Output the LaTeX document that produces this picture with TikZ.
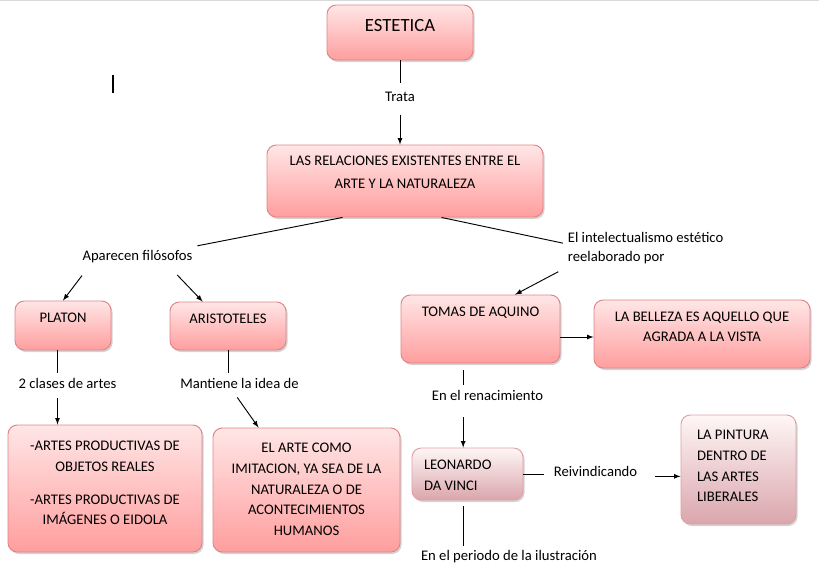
\documentclass[tikz,border=0pt]{standalone}
\usepackage{fontspec}
\setmainfont{Carlito}
\usepackage{tikz}
\usetikzlibrary{shadows, calc}
\definecolor{BoxTop}{RGB}{255,230,230}
\definecolor{BoxBot}{RGB}{255,158,158}
\definecolor{BoxEdge}{RGB}{226,132,135}
\definecolor{PaleTop}{RGB}{255,246,246}
\definecolor{PaleBot}{RGB}{218,166,172}
\definecolor{PaleEdge}{RGB}{224,160,165}
\tikzset{box/.style={draw=BoxEdge, rounded corners=7pt, top color=BoxTop, bottom color=BoxBot, drop shadow={shadow xshift=1.2pt, shadow yshift=-1.5pt, opacity=0.35}}}
\tikzset{palebox/.style={box, draw=PaleEdge, top color=PaleTop, bottom color=PaleBot}}
\tikzset{txt/.style={font=\fontsize{11}{15.5}\selectfont, align=center, inner sep=0pt, anchor=north}}
\tikzset{tag/.style={font=\fontsize{11}{14.3}\selectfont}}
\tikzset{next/.style={-latex}}

\begin{document}
\begin{tikzpicture}[x=0.75pt, y=-0.75pt, line width=0.7pt]
        \useasboundingbox (0,0) rectangle (819,565);
        \draw[gray!30] (0,0.5) -- (819,0.5);
        \draw[line width=1.5pt] (113,75) -- (113,93);

        \node (est) at (400,32.5) [box, minimum width=109.5pt, minimum height=41.25pt] {};
        \node (est-t) at ([yshift=-10.5pt]est.north) [txt, font=\fontsize{14}{17}\selectfont] {ESTETICA};
        \node (trata) at (400,97) [tag] {Trata};
        \draw[shorten >=3pt] (est) -- (trata);

        \node (rel) at (405,181) [box, minimum width=207pt, minimum height=54pt] {};
        \node (rel-t) at ([yshift=-8.5pt]rel.north) [txt, font=\fontsize{11}{17.2}\selectfont] {LAS RELACIONES EXISTENTES ENTRE EL\\ARTE Y LA NATURALEZA};
        \draw[next, shorten <=6pt] (trata) -- (trata |- rel.north);

        % filosofos
        \node (aparecen) at (137.5,257) [tag] {Aparecen filósofos};
        \node (intel) at (563,248.5) [tag, anchor=west, align=left] {El intelectualismo estético\\reelaborado por};
        \draw ([xshift=57pt]rel.south west) -- (aparecen.north east);
        \draw ([xshift=131.25pt]rel.south west) -- ([yshift=4pt]intel.west);

        \node (platon) at (63,325.5) [box, minimum width=72pt, minimum height=36.75pt] {};
        \node (platon-t) at ([yshift=-9.2pt]platon.north) [txt] {PLATON};
        \node (arist) at (228,326) [box, minimum width=87pt, minimum height=36pt] {};
        \node (arist-t) at ([yshift=-9.2pt]arist.north) [txt] {ARISTOTELES};
        \draw[next, shorten <=7pt] ([xshift=7.5pt]aparecen.south west) -- (platon.north);
        \draw[next, shorten <=7pt] ([xshift=-20pt]aparecen.south east) -- ([xshift=-19pt]arist.north);

        \node (clases) at (67.5,383) [tag] {2 clases de artes};
        \node (mantiene) at (239.5,383) [tag] {Mantiene la idea de};
        \draw ([xshift=-4.5pt]platon.south) -- ([xshift=-4.5pt]platon.south |- clases.north);
        \draw (arist) -- (arist |- mantiene.north);

        \node (artes) at (105,488.5) [box, minimum width=145.5pt, minimum height=95.25pt] {};
        \node (artes-t) at ([yshift=-12.2pt]artes.north) [txt] {-ARTES PRODUCTIVAS DE\\OBJETOS REALES\\[9pt]-ARTES PRODUCTIVAS DE\\IMÁGENES O EIDOLA};
        \node (imit) at (306.5,490) [box, minimum width=140.25pt, minimum height=93pt] {};
        \node (imit-t) at ([yshift=-11.5pt]imit.north) [txt] {EL ARTE COMO\\IMITACION, YA SEA DE LA\\NATURALEZA O DE\\ACONTECIMIENTOS\\HUMANOS};
        \draw[next, shorten <=4pt] ([xshift=-7.5pt]clases.south) -- ([xshift=-7.5pt]clases.south |- artes.north);
        \draw[next, shorten <=4pt] ([xshift=-4pt]mantiene.south) -- ([xshift=-36pt]imit.north);

        % tomas de aquino
        \node (tomas) at (480.5,329) [box, minimum width=119.25pt, minimum height=51pt] {};
        \node (tomas-t) at ([yshift=-9.2pt]tomas.north) [txt] {TOMAS DE AQUINO};
        \node (belleza) at (702,334) [box, minimum width=162pt, minimum height=51pt] {};
        \node (belleza-t) at ([yshift=-9.2pt]belleza.north) [txt, font=\fontsize{11}{15}\selectfont] {LA BELLEZA ES AQUELLO QUE\\AGRADA A LA VISTA};
        \draw[next, shorten <=4pt] (intel.south west) -- ([xshift=26pt]tomas.north);
        \draw[next] ([yshift=-6pt]tomas.east) -- ([yshift=-6pt]tomas.east -| belleza.west);

        \node (renac) at (487.5,395) [tag] {En el renacimiento};
        \draw[shorten <=5pt] ([xshift=-13pt]tomas.south) -- ([xshift=-13pt]tomas.south |- renac.north);

        \node (leo) at (467.5,474) [palebox, minimum width=83.25pt, minimum height=39pt] {};
        \node (leo-t) at ([xshift=9pt, yshift=-9.2pt]leo.north west) [txt, anchor=north west, align=left] {LEONARDO\\DA VINCI};
        \draw[next, shorten <=9pt] ([xshift=-13pt]tomas.south |- renac.south) -- ([xshift=-13pt]tomas.south |- leo.north);

        \node (reivind) at (595.5,471) [tag] {Reivindicando};
        \node (pint) at (738.5,469.5) [palebox, minimum width=86.25pt, minimum height=81.75pt] {};
        \node (pint-t) at ([xshift=12pt, yshift=-11.5pt]pint.north west) [txt, anchor=north west, align=left] {LA PINTURA\\DENTRO DE\\LAS ARTES\\LIBERALES};
        \draw[shorten >=4pt] (leo.east) -- (leo.east -| reivind.west);
        \draw[next, shorten <=10pt] ([yshift=-4pt]reivind.east) -- ([yshift=-4pt]reivind.east -| pint.west);

        \node (ilus) at (509,557) [tag] {En el periodo de la ilustración};
        \draw[shorten <=4pt] ([xshift=-3.4pt]leo.south) -- ([xshift=-3.4pt]leo.south |- ilus.north);
\end{tikzpicture}
\end{document}
